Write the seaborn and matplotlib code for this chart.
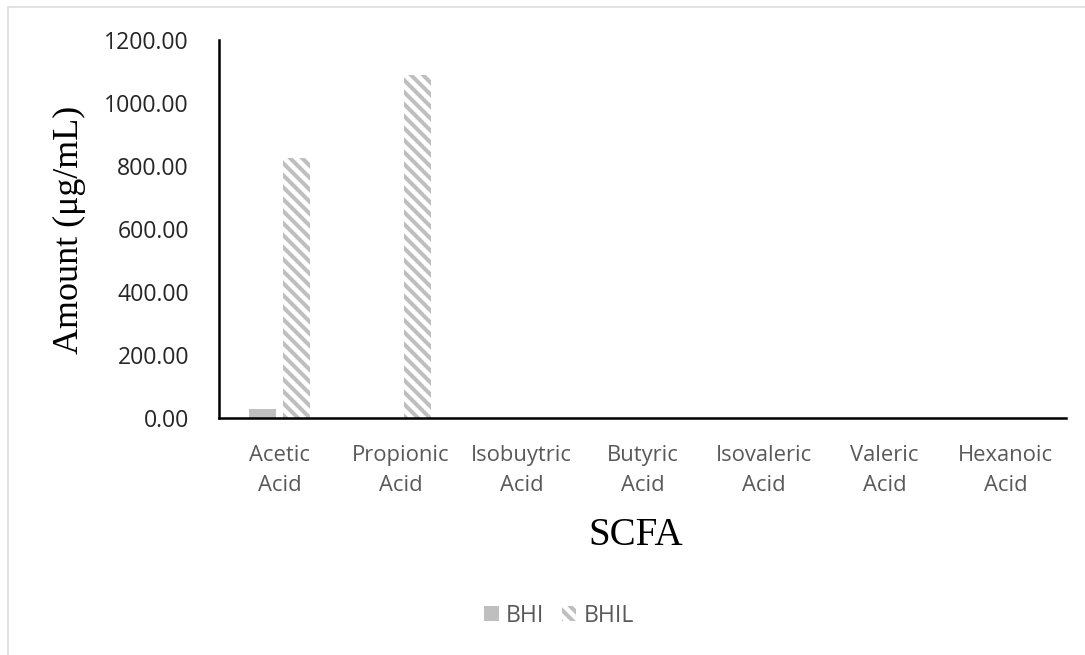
import numpy as np
import pandas as pd
import matplotlib
matplotlib.use("Agg")
import matplotlib.pyplot as plt
import seaborn as sns
from matplotlib.patches import Patch, Rectangle

categories = ["Acetic\nAcid", "Propionic\nAcid", "Isobuytric\nAcid", "Butyric\nAcid",
              "Isovaleric\nAcid", "Valeric\nAcid", "Hexanoic\nAcid"]
bhi = [28, 0, 0, 0, 0, 0, 0]
bhil = [825, 1090, 0, 0, 0, 0, 0]
series = ["BHI", "BHIL"]
yticks = [0, 200, 400, 600, 800, 1000, 1200]

sns.set_theme(style="white")
plt.rcParams["font.family"] = ["Open Sans", "DejaVu Sans"]
plt.rcParams["hatch.linewidth"] = 4.0

df = pd.DataFrame({
    "SCFA": categories * 2,
    "Amount": bhi + bhil,
    "Series": [series[0]] * len(categories) + [series[1]] * len(categories),
})

DPI = 72
W, H = 1085, 655
fig = plt.figure(figsize=(W / DPI, H / DPI), dpi=DPI)
fig.patch.set_facecolor("white")
ax = fig.add_axes([219 / W, 1 - 418 / H, (1066 - 219) / W, (418 - 40) / H])

sns.barplot(data=df, x="SCFA", y="Amount", hue="Series", order=categories,
            hue_order=series, palette=["#BFBFBF", "#BFBFBF"], width=0.56, gap=0.2,
            saturation=1, legend=False, ax=ax, errorbar=None)

n = len(categories)
for p in ax.patches[n:2 * n]:
    p.set_facecolor("white")
    p.set_edgecolor("#BFBFBF")
    p.set_hatch("\\\\")
    p.set_linewidth(0)
for p in ax.patches[:n]:
    p.set_linewidth(0)

ax.set_ylim(0, 1200)
ax.set_yticks(yticks)
ax.set_yticklabels([f"{v:.2f}" for v in yticks], fontsize=23, color="#262626")
ax.set_xticks(range(n))
ax.set_xticklabels(categories, fontsize=22, color="#595959", linespacing=1.55)
ax.tick_params(axis="y", length=0, pad=30)
ax.tick_params(axis="x", length=0, pad=27)
ax.set_xlabel("")
ax.set_ylabel("")
for s in ["top", "right"]:
    ax.spines[s].set_visible(False)
for s in ["left", "bottom"]:
    ax.spines[s].set_color("black")
    ax.spines[s].set_linewidth(2.5)
ax.set_facecolor("white")

fig.text(69 / W, 1 - 230 / H, "Amount (μg/mL)", rotation=90, ha="center", va="center",
         fontsize=36, family=["Liberation Serif", "DejaVu Serif"], color="black")
fig.text(636 / W, 1 - 545 / H, "SCFA", ha="center", va="baseline",
         fontsize=39, family=["Liberation Serif", "DejaVu Serif"], color="black")

handles = [Patch(facecolor="#BFBFBF", edgecolor="#BFBFBF", linewidth=0),
           Patch(facecolor="white", edgecolor="#BFBFBF", hatch="\\\\", linewidth=0)]
fig.legend(handles, series, loc="center", bbox_to_anchor=(559 / W, 1 - 616 / H),
           ncol=2, frameon=False, fontsize=23, handlelength=0.62, handleheight=0.62,
           handletextpad=0.3, columnspacing=0.8, labelcolor="#595959")

fig.patches.append(Rectangle((8 / W, -0.05), 1.2, 1.05 - 7 / H, transform=fig.transFigure,
                             fill=False, edgecolor="#D9D9D9", linewidth=1.5))

fig.savefig("out.png", dpi=DPI, facecolor="white")
